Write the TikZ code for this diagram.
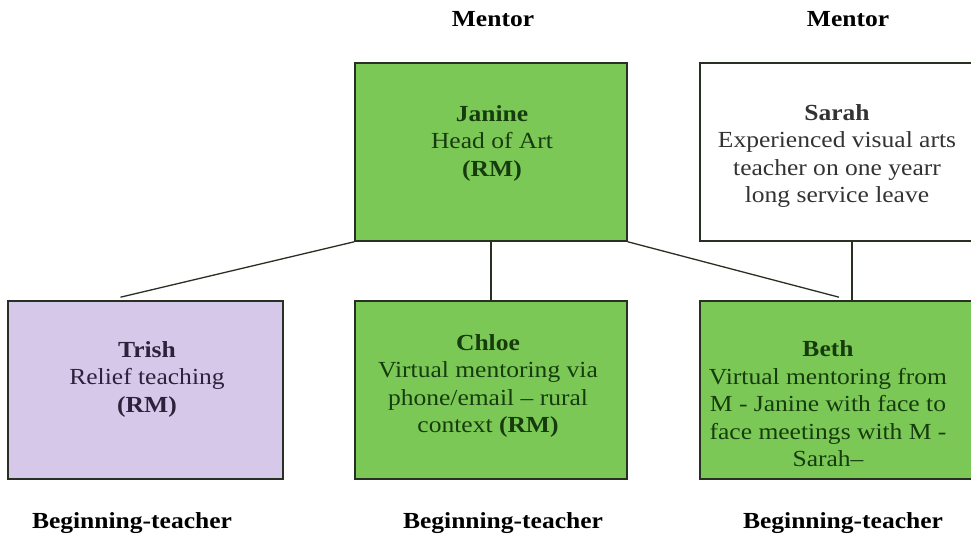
\documentclass[tikz,border=0pt]{standalone}
\usepackage{fontspec}
\setmainfont[FakeStretch=1.11]{Liberation Serif}
\definecolor{boxgreen}{RGB}{124,200,86}
\definecolor{boxlilac}{RGB}{214,200,232}
\definecolor{greentext}{RGB}{22,60,14}
\definecolor{lilactext}{RGB}{44,34,60}
\definecolor{edge}{RGB}{40,48,36}
\begin{document}
\begin{tikzpicture}[x=1pt,y=1pt,
  box/.style={draw=edge,line width=1.6pt,inner sep=0pt},
  txt/.style={align=center,font=\fontsize{23}{27.5}\selectfont,inner sep=0pt},
  head/.style={font=\fontsize{23}{27.5}\selectfont\bfseries,inner sep=0pt},
  link/.style={draw=edge,line width=1.3pt}]
\useasboundingbox (0,0) rectangle (971,540);
\fill[white] (0,0) rectangle (971,540);
% boxes (y = 540 - pixel row)
\node[box,fill=boxgreen,minimum width=272,minimum height=178] (janine) at (491,388) {};
\node[box,fill=white,minimum width=304,minimum height=178] (sarah) at (852,388) {};
\node[box,fill=boxlilac,minimum width=275,minimum height=178] (trish) at (145.5,150) {};
\node[box,fill=boxgreen,minimum width=272,minimum height=178] (chloe) at (491,150) {};
\node[box,fill=boxgreen,minimum width=304,minimum height=178] (beth) at (852,150) {};
% texts
\node[txt,text=greentext] (janineT) at (492,397) {\textbf{Janine}\\Head of Art\\\textbf{(RM)}};
\node[txt,text=black!80] (sarahT) at (837,384) {\textbf{Sarah}\\Experienced visual arts\\teacher on one yearr\\long service leave};
\node[txt,text=lilactext] (trishT) at (147,161) {\textbf{Trish}\\Relief teaching\\\textbf{(RM)}};
\node[txt,text=greentext] (chloeT) at (488,154) {\textbf{Chloe}\\Virtual mentoring via\\phone/email -- rural\\context \textbf{(RM)}};
\node[txt,text=greentext] (bethT) at (828,136) {\textbf{Beth}\\Virtual mentoring from\\M - Janine with face to\\face meetings with M -\\Sarah--};
% headings
\node[head] (m1) at (493,521) {Mentor};
\node[head] (m2) at (848,521) {Mentor};
\node[head] (b1) at (132,17) {Beginning-teacher};
\node[head] (b2) at (503,17) {Beginning-teacher};
\node[head] (b3) at (843,17) {Beginning-teacher};
% connectors
\draw[link] (janine.south west) -- ([xshift=-25,yshift=3]trish.north);
\draw[link] (janine.south) -- (chloe.north);
\draw[link] (janine.south east) -- ([xshift=-13,yshift=3]beth.north);
\draw[link] (sarah.south) -- (beth.north);
\end{tikzpicture}
\end{document}
